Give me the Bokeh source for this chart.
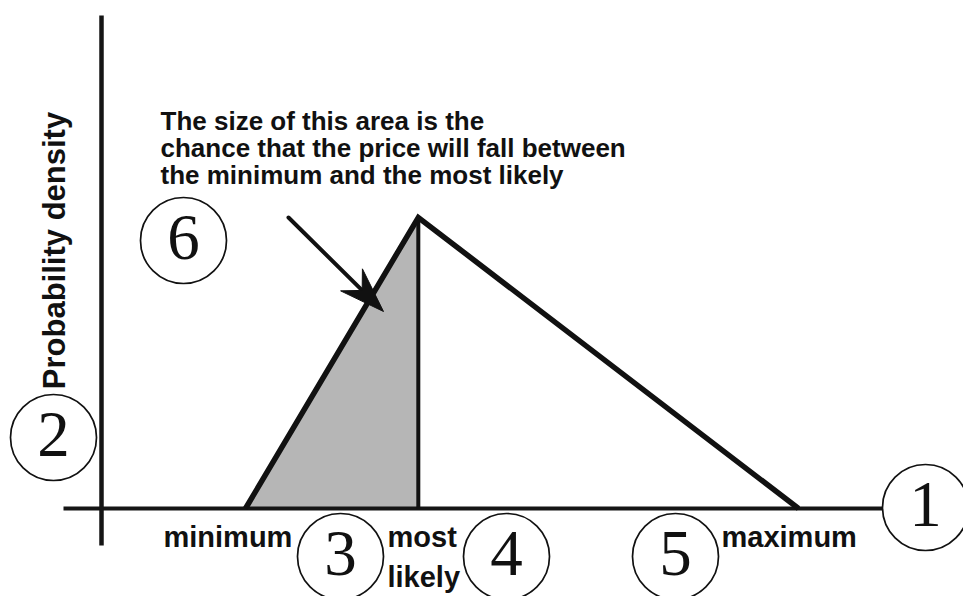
import numpy as np
from bokeh.plotting import figure
from bokeh.models import Range1d
from bokeh.core.properties import value
from bokeh.embed import file_html
from bokeh.resources import INLINE

# Triangular distribution of a price: minimum, most likely, maximum
price_points = [20.0, 30.0, 52.0]          # minimum, most likely, maximum
density_points = [0.0, 0.0625, 0.0]        # probability density at those prices
axis_labels = ["minimum", "most", "likely", "maximum"]
annotation_lines = [
    "The size of this area is the",
    "chance that the price will fall between",
    "the minimum and the most likely",
]
callout_numbers = ["1", "2", "3", "4", "5", "6"]

W, H = 963, 596
X0, X1 = 5.823, 61.548
Y0, Y1 = -0.0189, 0.10911

p = figure(width=W, height=H, x_range=Range1d(X0, X1), y_range=Range1d(Y0, Y1),
           x_axis_type=None, y_axis_type=None, toolbar_location=None,
           output_backend="svg", min_border=0)
p.outline_line_color = None
p.background_fill_color = "white"
p.border_fill_color = "white"


def dx(px):
    """canvas pixel column -> price"""
    return X0 + px * (X1 - X0) / W


def dy(py):
    """canvas pixel row (from top) -> density"""
    return Y1 - py * (Y1 - Y0) / H


def base(py, size):
    """row of a text's visual baseline -> anchor row for the text glyph"""
    return py - 0.38 * size


lo, mode, hi = price_points
peak = density_points[1]

# shaded area between the minimum and the most likely price
p.patch([lo, mode, mode], [0, peak, 0], fill_color="#b6b6b6", line_color=None)

# axes drawn as plain strokes
p.segment(x0=[dx(63)], y0=[0], x1=[dx(882)], y1=[0], line_color="#151515", line_width=4)
p.segment(x0=[dx(101)], y0=[dy(15)], x1=[dx(101)], y1=[dy(545)], line_color="#151515", line_width=4.5)

# the distribution itself
p.segment(x0=[mode], y0=[0], x1=[mode], y1=[peak], line_color="#111111", line_width=4)
p.line(price_points, density_points, line_color="#111111", line_width=5.5, line_join="miter")

# arrow pointing at the shaded area
ax0, ay0 = 288, 217
ax1, ay1 = 383, 311
d = np.array([ax1 - ax0, ay1 - ay0], dtype=float)
d /= np.hypot(*d)
n = np.array([-d[1], d[0]])
tip = np.array([ax1, ay1], dtype=float)
barb1 = tip - 45 * d + 15.5 * n
barb2 = tip - 45 * d - 15.5 * n
notch = tip - 30 * d
head = [tip, barb1, notch, barb2]
p.line([dx(ax0), dx(notch[0])], [dy(ay0), dy(notch[1])], line_color="#111111",
       line_width=4, line_cap="round")
p.patch([dx(q[0]) for q in head], [dy(q[1]) for q in head],
        fill_color="#111111", line_color="#111111", line_width=1, line_join="miter")

sans = value("Liberation Sans")

# explanatory text
for i, line in enumerate(annotation_lines):
    p.text(x=[dx(160)], y=[dy(base(130 + 27 * i, 26))], text=[line], text_font=sans,
           text_font_size="26px", text_font_style="bold", text_color="#111111",
           text_align="left", text_baseline="alphabetic")

# y-axis title
p.text(x=[dx(66 - 0.38 * 31)], y=[dy(250)], text=["Probability density"], angle=np.pi / 2,
       text_font=sans, text_font_size="31px", text_font_style="bold",
       text_color="#111111", text_align="center", text_baseline="alphabetic")

# labels under the baseline
label_pos = [(163, 548), (387, 548), (387, 588), (721, 548)]
for lab, (lx, ly) in zip(axis_labels, label_pos):
    p.text(x=[dx(lx)], y=[dy(base(ly, 29))], text=[lab], text_font=sans,
           text_font_size="29px", text_font_style="bold", text_color="#111111",
           text_align="left", text_baseline="alphabetic")

# numbered circles
circle_pos = [(925, 507), (53, 437), (340, 556), (506, 556), (675, 556), (183, 240)]
cx = [dx(c[0]) for c in circle_pos]
cy = [dy(c[1]) for c in circle_pos]
p.scatter(cx, cy, marker="circle", size=86, fill_color="white", line_color="#111111",
          line_width=1.7)
p.text(x=cx, y=[dy(base(c[1] + 22, 65)) for c in circle_pos], text=callout_numbers,
       text_font=value("Liberation Serif"), text_font_size="65px",
       text_color="#111111", text_align="center", text_baseline="alphabetic")

open("out.html", "w").write(file_html(p, INLINE))
